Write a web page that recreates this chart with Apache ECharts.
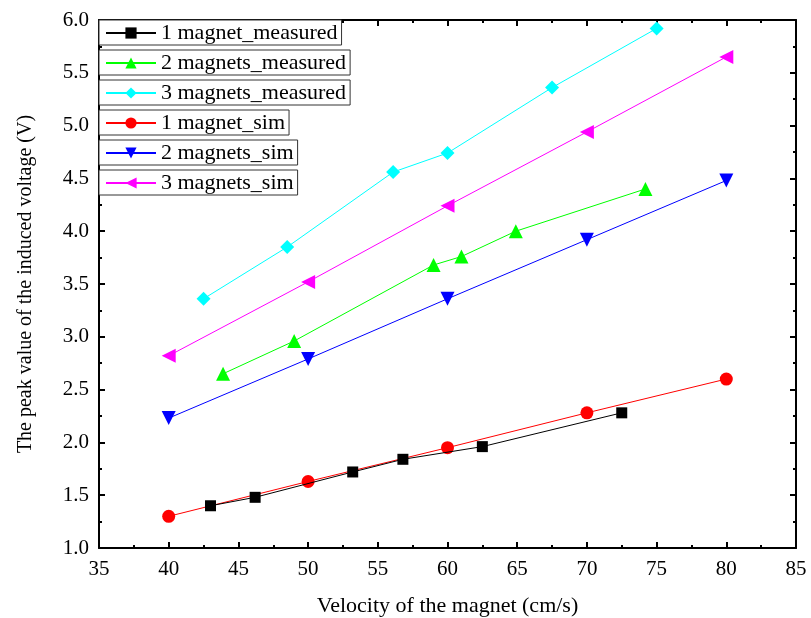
<!DOCTYPE html>
<html>
<head>
<meta charset="utf-8">
<script src="https://cdn.jsdelivr.net/npm/echarts@6/dist/echarts.min.js"></script>
<style>
  html, body { margin: 0; padding: 0; background: #fff; }
  #chart { width: 811px; height: 618px; }
</style>
</head>
<body>
<div id="chart"></div>
<script>
// values
var m1MeasX = [43.0, 46.2, 53.2, 56.8, 62.5, 72.5];
var m1MeasY = [1.40, 1.48, 1.72, 1.84, 1.96, 2.28];
var m2MeasX = [43.9, 49.0, 59.0, 61.0, 64.9, 74.2];
var m2MeasY = [2.65, 2.96, 3.68, 3.76, 4.00, 4.40];
var m3MeasX = [42.5, 48.5, 56.1, 60.0, 67.5, 75.0];
var m3MeasY = [3.36, 3.85, 4.56, 4.74, 5.36, 5.92];
var simX = [40, 50, 60, 70, 80];
var m1SimY = [1.30, 1.63, 1.95, 2.28, 2.60];
var m2SimY = [2.23, 2.79, 3.36, 3.92, 4.48];
var m3SimY = [2.82, 3.52, 4.24, 4.94, 5.65];

var names = ['1 magnet_measured', '2 magnets_measured', '3 magnets_measured',
             '1 magnet_sim', '2 magnets_sim', '3 magnets_sim'];
var colors = ['#000000', '#00ff00', '#00ffff', '#ff0000', '#0000ff', '#ff00ff'];
var symbols = ['rect', 'triangle', 'diamond', 'circle', 'triangle', 'triangle'];
var rotations = [0, 0, 0, 0, 180, 90];
var sizes = [11, 14, 14, 13, 14, 14];

function zip(xs, ys) {
    return xs.map(function (x, i) { return [x, ys[i]]; });
}
var seriesData = [
    zip(m1MeasX, m1MeasY), zip(m2MeasX, m2MeasY), zip(m3MeasX, m3MeasY),
    zip(simX, m1SimY), zip(simX, m2SimY), zip(simX, m3SimY)
];

var font = 'Liberation Serif';

var series = names.map(function (n, i) {
    return {
        name: n,
        type: 'line',
        data: seriesData[i],
        symbol: symbols[i],
        symbolSize: sizes[i],
        symbolRotate: rotations[i],
        showAllSymbol: true,
        itemStyle: { color: colors[i] },
        lineStyle: { color: colors[i], width: 1 },
        emphasis: { disabled: true },
        z: 3 + (5 - i),
        xAxisIndex: 0,
        yAxisIndex: 0
    };
});

// one boxed legend per series, stacked like the original
var legendTops = [20, 50, 80, 110, 140, 170];
var legends = names.map(function (n, i) {
    return {
        data: [n],
        left: 99,
        top: legendTops[i],
        orient: 'vertical',
        itemWidth: 50,
        itemHeight: 14,
        itemGap: 0,
        padding: [2, 4, 1, 6],
        borderColor: '#333',
        borderWidth: 1,
        backgroundColor: '#fff',
        selectedMode: false,
        textStyle: { fontFamily: font, fontSize: 22, color: '#000', lineHeight: 22 }
    };
});

function xAx(pos, show) {
    return {
        type: 'value', position: pos, min: 35, max: 85, interval: 5,
        name: show ? 'Velocity of the magnet (cm/s)' : '',
        nameLocation: 'middle', nameGap: 47,
        nameTextStyle: { fontFamily: font, fontSize: 22, color: '#000' },
        axisLine: { show: true, onZero: false, lineStyle: { color: '#000', width: 2 } },
        axisTick: { show: true, inside: true, length: 6, lineStyle: { color: '#000', width: 2 } },
        minorTick: { show: true, splitNumber: 2, length: 3, lineStyle: { color: '#000', width: 2 } },
        axisLabel: { show: show, fontFamily: font, fontSize: 21, color: '#000', margin: 11 },
        splitLine: { show: false }
    };
}
function yAx(pos, show) {
    return {
        type: 'value', position: pos, min: 1, max: 6, interval: 0.5,
        name: show ? 'The peak value of the induced voltage (V)' : '',
        nameLocation: 'middle', nameGap: 63,
        nameTextStyle: { fontFamily: font, fontSize: 20, color: '#000' },
        axisLine: { show: true, onZero: false, lineStyle: { color: '#000', width: 2 } },
        axisTick: { show: true, inside: true, length: 6, lineStyle: { color: '#000', width: 2 } },
        minorTick: { show: true, splitNumber: 2, length: 3, lineStyle: { color: '#000', width: 2 } },
        axisLabel: {
            show: show, fontFamily: font, fontSize: 21, color: '#000', margin: 10,
            formatter: function (v) { return v.toFixed(1); }
        },
        splitLine: { show: false }
    };
}

var chart = echarts.init(document.getElementById('chart'));
chart.setOption({
    animation: false,
    backgroundColor: '#fff',
    grid: { left: 99, right: 15, top: 20, bottom: 70, containLabel: false, outerBoundsMode: 'none' },
    legend: legends,
    xAxis: [xAx('bottom', true), xAx('top', false)],
    yAxis: [yAx('left', true), yAx('right', false)],
    series: series
});
</script>
</body>
</html>
